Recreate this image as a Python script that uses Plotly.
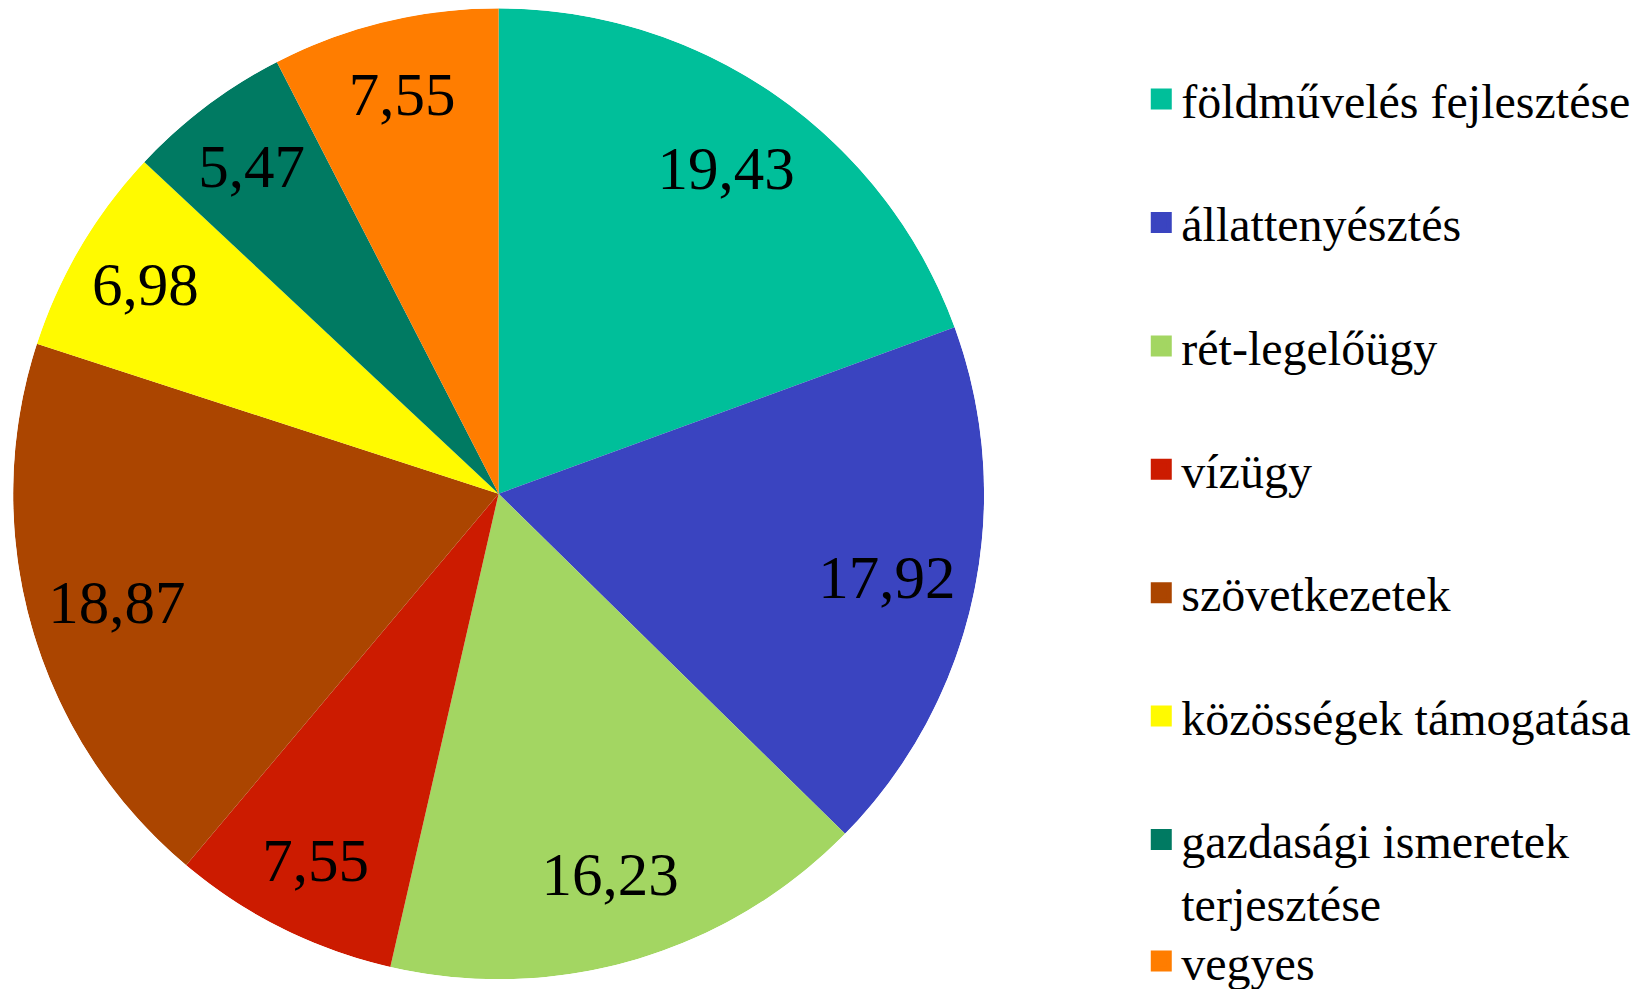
import plotly.graph_objects as go

categories = ["földművelés fejlesztése", "állattenyésztés", "rét-legelőügy", "vízügy",
              "szövetkezetek", "közösségek támogatása", "gazdasági ismeretek<br>terjesztése", "vegyes"]
values = [19.43, 17.92, 16.23, 7.55, 18.87, 6.98, 5.47, 7.55]
value_labels = ["19,43", "17,92", "16,23", "7,55", "18,87", "6,98", "5,47", "7,55"]
colors = ["#00BF9A", "#3A44C0", "#A3D662", "#CC1B00", "#AB4500", "#FFFA00", "#007A62", "#FF7D00"]

FONT = "Liberation Serif"
W, H = 1652, 989
cx, cy, R = 490.6, 485.8, 485.5
dom_x = [(cx - R) / W, (cx + R) / W]
dom_y = [max(0.0, (H - cy - R) / H), min(1.0, (H - cy + R) / H)]
# label layer: same circle, nudged down a few pixels to centre the digit glyphs
dy = 5 / H
dom_y_lab = [dom_y[0] - dy, dom_y[1] - dy]

# slice geometry derived from the values (share of 360 degrees)
total = sum(values)
widths = [v / total * 360 for v in values]
mids = []
cum = 0.0
for v in values:
    mids.append((cum + v / 2) / total * 360)
    cum += v
# wider labels sit slightly further in, so the text box stays inside its slice
label_r = [0.845 if len(t) <= 4 else 0.818 for t in value_labels]

fig = go.Figure()
fig.add_trace(go.Barpolar(
    r=[1] * len(values), theta=mids, width=widths,
    marker=dict(color=colors, line=dict(width=0)),
    text=categories, hoverinfo="text", showlegend=False, subplot="polar",
))
fig.add_trace(go.Scatterpolar(
    r=label_r, theta=mids, mode="text", text=value_labels,
    textfont=dict(family=FONT, size=61, color="black"),
    textposition="middle center", showlegend=False, hoverinfo="skip", subplot="polar2",
))

# legend entries
for i, (c, col) in enumerate(zip(categories, colors)):
    fig.add_trace(go.Scatterpolar(
        r=[None], theta=[None], mode="markers", name=c,
        marker=dict(symbol="square", size=16, color=col, line=dict(color=col, width=5)),
        legendgroup="g%d" % i, showlegend=True, subplot="polar",
        legend="legend2" if i == len(categories) - 1 else "legend",
    ))

polar_common = dict(
    bgcolor="rgba(0,0,0,0)", bargap=0, hole=0,
    radialaxis=dict(visible=False, range=[0, 1], showgrid=False),
    angularaxis=dict(visible=False, rotation=90, direction="clockwise", showgrid=False),
)

fig.update_layout(
    width=W, height=H,
    margin=dict(l=0, r=0, t=0, b=0, autoexpand=False),
    paper_bgcolor="white", plot_bgcolor="white",
    polar=dict(domain=dict(x=dom_x, y=dom_y), **polar_common),
    polar2=dict(domain=dict(x=dom_x, y=dom_y_lab), **polar_common),
    legend=dict(
        x=0.686, xanchor="left", y=0.946, yanchor="top",
        font=dict(family=FONT, size=48, color="black"),
        traceorder="grouped", tracegroupgap=58, valign="top",
        itemsizing="trace", bgcolor="rgba(0,0,0,0)",
    ),
    legend2=dict(
        x=0.686, xanchor="left", y=0.036, yanchor="middle",
        font=dict(family=FONT, size=48, color="black"),
        itemsizing="trace", bgcolor="rgba(0,0,0,0)",
    ),
    showlegend=True,
)

fig.write_html("out.html")
